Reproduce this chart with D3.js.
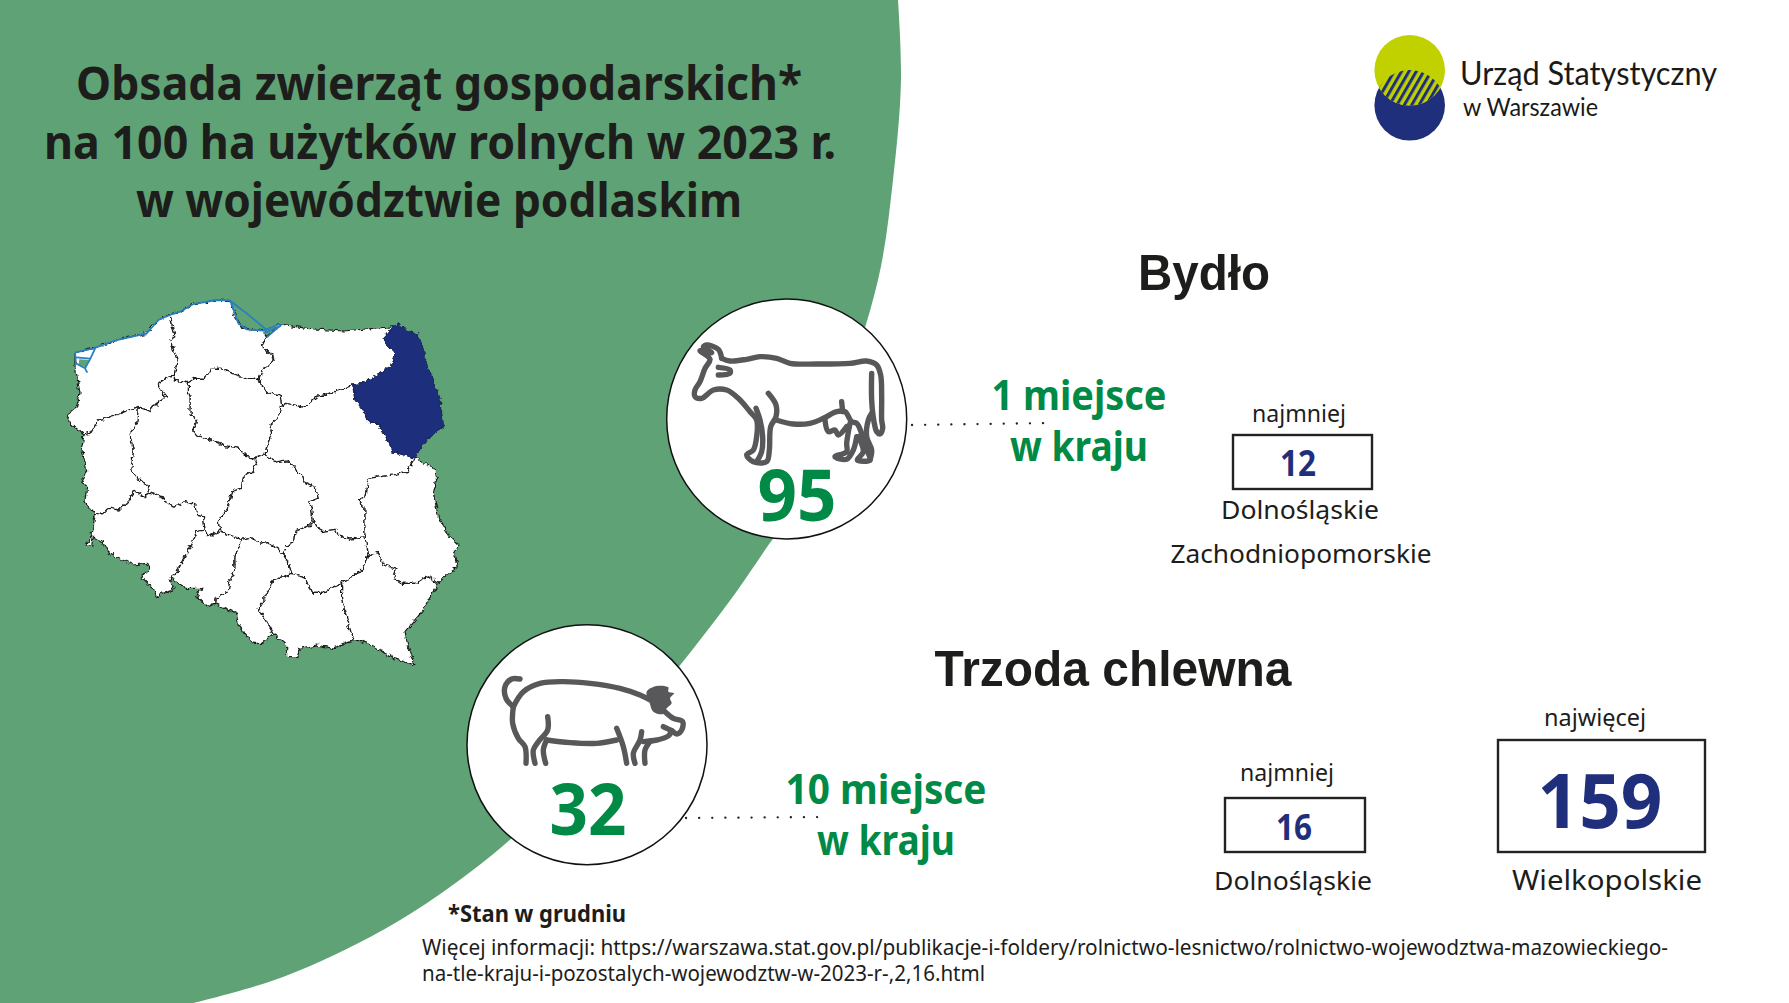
<!DOCTYPE html>
<html>
<head>
<meta charset="utf-8">
<script src="https://cdn.jsdelivr.net/npm/d3@7"></script>
<style>
html, body { margin: 0; padding: 0; background: #fff; overflow: hidden; }
</style>
</head>
<body>
<div id="board"></div>
<script>
// values
var titleLines = ['Obsada zwierząt gospodarskich*', 'na 100 ha użytków rolnych w 2023 r.', 'w województwie podlaskim'];
var species = ['Bydło', 'Trzoda chlewna'];
var speciesValues = [95, 32];
var ranks = ['1 miejsce', '10 miejsce'];
var lowValues = [12, 16];
var highValues = [null, 159];
var lowNames = [['Dolnośląskie', 'Zachodniopomorskie'], ['Dolnośląskie']];
var highNames = [null, ['Wielkopolskie']];
var linkLines = ['Więcej informacji: https://warszawa.stat.gov.pl/publikacje-i-foldery/rolnictwo-lesnictwo/rolnictwo-wojewodztwa-mazowieckiego-',
    'na-tle-kraju-i-pozostalych-wojewodztw-w-2023-r-,2,16.html'];

// edge of the green background, picture pixels
var greenEdge = [[898,0],[901,80],[893,180],[878,280],[840,400],[792,510],[765,550],[723,610],[625,730],[512,838],[450,887],[383,930],[283,977],[193,1003]];

// voivodeships
var zachodniopomorskie = [[105,218],[160,205],[230,180],[320,160],[355,120],[390,105],[405,170],[390,180],[412,240],[403,285],[385,290],[352,315],[378,350],[345,375],[330,395],[295,380],[215,410],[175,420],[150,460],[132,465],[80,420],[85,400],[110,380],[120,340],[105,260]];
var pomorskie = [[390,105],[420,95],[460,72],[530,60],[570,62],[575,75],[595,130],[620,148],[670,152],[680,170],[665,200],[705,232],[690,255],[670,265],[657,295],[625,295],[590,285],[540,265],[515,265],[495,295],[465,295],[445,308],[403,300],[403,285],[412,240],[390,180],[405,170]];
var warminskoMazurskie = [[680,170],[720,132],[800,145],[910,153],[1060,140],[1030,175],[1065,225],[1050,260],[1000,290],[970,310],[938,315],[870,340],[830,350],[795,382],[740,370],[725,380],[720,345],[690,340],[665,320],[657,295],[670,265],[690,255],[705,232],[665,200]];
var podlaskie = [[1060,140],[1075,130],[1100,150],[1135,165],[1148,200],[1165,270],[1190,330],[1200,370],[1212,440],[1170,470],[1145,500],[1125,535],[1060,515],[1035,465],[1015,430],[990,430],[970,390],[945,360],[938,315],[970,310],[1000,290],[1050,260],[1065,225],[1030,175]];
var kujawskoPomorskie = [[445,308],[465,295],[495,295],[515,265],[540,265],[590,285],[625,295],[657,295],[665,320],[690,340],[720,345],[725,380],[712,415],[690,435],[695,460],[680,500],[675,525],[645,535],[620,530],[595,505],[545,495],[510,480],[470,465],[458,450],[470,420],[450,405],[450,350],[445,335]];
var wielkopolskie = [[403,285],[403,300],[445,308],[445,335],[450,350],[450,405],[470,420],[458,450],[470,465],[510,480],[545,495],[595,505],[620,530],[645,535],[650,550],[635,575],[610,590],[605,625],[575,635],[565,680],[535,725],[540,755],[510,768],[495,750],[490,710],[470,705],[465,675],[435,665],[405,682],[365,655],[335,635],[315,650],[330,620],[300,605],[272,570],[280,515],[270,460],[290,430],[295,380],[330,395],[345,375],[378,350],[352,315],[385,290]];
var lubuskie = [[132,465],[150,460],[175,420],[215,410],[295,380],[290,430],[270,460],[280,515],[272,570],[300,605],[330,620],[315,650],[285,632],[265,665],[240,690],[210,685],[190,695],[165,705],[135,665],[140,620],[125,610],[140,570],[125,505]];
var dolnoslaskie = [[165,705],[190,695],[210,685],[240,690],[265,665],[285,632],[315,650],[335,635],[365,655],[405,682],[435,665],[465,675],[470,705],[490,710],[495,750],[470,755],[450,800],[425,850],[405,885],[390,895],[400,930],[365,940],[350,950],[340,925],[303,890],[330,865],[320,850],[280,855],[205,820],[190,790],[160,772],[155,798],[138,798],[155,770]];
var opolskie = [[495,750],[510,768],[540,755],[605,778],[585,830],[585,870],[570,900],[565,935],[525,955],[525,970],[505,980],[470,950],[485,925],[440,925],[390,895],[405,885],[425,850],[450,800],[470,755]];
var lodzkie = [[645,535],[675,525],[710,548],[745,542],[785,585],[790,605],[825,620],[835,655],[810,665],[820,720],[810,735],[765,755],[760,790],[740,800],[730,820],[680,785],[660,790],[630,772],[605,778],[540,755],[535,725],[565,680],[575,635],[605,625],[610,590],[635,575],[650,550]];
var mazowieckie = [[725,380],[740,370],[795,382],[830,350],[870,340],[938,315],[945,360],[970,390],[990,430],[1015,430],[1035,465],[1060,515],[1125,535],[1100,575],[1060,585],[985,595],[975,650],[955,660],[975,680],[975,770],[930,778],[895,765],[885,748],[845,755],[820,720],[810,665],[835,655],[825,620],[790,605],[785,585],[745,542],[710,548],[675,525],[680,500],[695,460],[690,435],[712,415]];
var lubelskie = [[1125,535],[1185,565],[1190,600],[1180,640],[1195,710],[1230,770],[1257,795],[1240,820],[1255,860],[1225,880],[1195,910],[1165,888],[1130,910],[1085,910],[1060,895],[1070,865],[1030,855],[1015,818],[985,825],[975,770],[975,680],[955,660],[975,650],[985,595],[1060,585],[1100,575]];
var swietokrzyskie = [[820,720],[845,755],[885,748],[895,765],[930,778],[975,770],[985,825],[965,870],[905,910],[870,925],[850,940],[815,940],[795,890],[755,880],[745,850],[730,820],[740,800],[760,790],[765,755],[810,735]];
var slaskie = [[605,778],[630,772],[660,790],[680,785],[730,820],[745,850],[755,880],[700,900],[680,945],[655,985],[670,1010],[700,1060],[665,1090],[640,1090],[595,1035],[590,1000],[525,970],[525,955],[565,935],[570,900],[585,870],[585,830]];
var malopolskie = [[755,880],[795,890],[815,940],[850,940],[870,925],[905,910],[905,960],[920,1010],[940,1082],[880,1105],[830,1095],[780,1105],[770,1130],[740,1130],[740,1095],[700,1060],[670,1010],[655,985],[680,945],[700,900]];
var podkarpackie = [[905,910],[965,870],[985,825],[1015,818],[1030,855],[1070,865],[1060,895],[1085,910],[1130,910],[1165,888],[1195,910],[1150,990],[1095,1055],[1105,1100],[1125,1155],[1060,1135],[1010,1105],[965,1082],[940,1082],[920,1010],[905,960]];
var whiteRegions = [zachodniopomorskie, pomorskie, warminskoMazurskie, kujawskoPomorskie, wielkopolskie, lubuskie, dolnoslaskie, opolskie, lodzkie, mazowieckie, lubelskie, swietokrzyskie, slaskie, malopolskie, podkarpackie];

// blue water lines
var coastLine = [[105,218],[160,205],[230,180],[320,160],[355,120],[390,105],[420,95],[460,72],[530,60],[570,62],[620,100],[680,150]];
var gulfLine = [[572,65],[595,130],[620,148],[670,152],[720,132]];
var spitLine = [[670,160],[722,138]];
var spitLine2 = [[680,172],[725,133]];
var lagoonA = [[105,218],[108,250],[135,265],[142,278]];
var lagoonB = [[168,200],[150,238],[135,265]];
var lagoonC = [[108,232],[150,236]];
var lagoonFill = [[118,238],[148,240],[136,262],[116,254]];

// animal icons, traced
var cowLines = [
    [[215,235],[240,243],[290,238],[330,230],[380,235],[420,250],[500,252],[600,250],[650,243],[680,255],[692,285],[695,350],[695,420],[698,445],[690,462],[680,455],[672,425],[665,360],[665,280]],
    [[215,235],[205,208],[170,195],[160,200],[185,218],[150,212],[180,238],[165,265],[150,305],[135,330],[135,350],[155,355],[190,330],[230,330],[265,355],[300,395],[320,420],[320,470],[310,510],[290,525],[310,545],[350,545],[358,510],[362,440],[378,410],[378,375],[355,340]],
    [[318,385],[330,420],[338,470],[335,515],[320,545]],
    [[378,420],[430,432],[480,430],[520,415],[560,395],[585,395],[605,425],[620,430],[635,460],[655,520],[660,540],[622,540],[640,515],[625,470]],
    [[575,365],[578,395]],
    [[600,430],[590,490],[590,515],[555,530],[590,538],[610,510],[620,470]],
    [[665,400],[655,420],[650,470],[665,510],[660,540]],
    [[525,420],[535,455],[555,450],[565,465],[590,440]],
    [[205,262],[240,270],[240,280],[205,285]]
];
var pigLines = [
    [[210,207],[185,207],[165,230],[168,265],[190,290]],
    [[190,290],[220,245],[270,220],[340,215],[420,220],[510,235],[570,255],[600,270]],
    [[645,305],[670,325],[698,335],[695,360],[680,372],[665,362],[640,350]],
    [[665,362],[655,378],[620,390],[580,395]],
    [[290,390],[360,398],[440,400],[500,390]],
    [[190,290],[188,340],[205,385],[225,410],[228,460]],
    [[293,320],[293,360],[265,395],[250,420],[255,460]],
    [[290,390],[280,420],[287,460]],
    [[500,355],[520,410],[530,460]],
    [[575,365],[570,390],[550,430],[555,460]],
    [[600,395],[585,420],[585,460]]
];
var pigEar = [[590,245],[620,228],[655,232],[655,245],[672,250],[660,265],[665,280],[650,295],[640,312],[610,305],[598,275]];

var NAVY = '#1f2f7b', GREEN = '#008a45', BG = '#5fa275', INK = '#1d1d1b', GREY = '#58585a';
var FONT = '"Noto Sans", sans-serif', HEAD = '"Liberation Sans", Arial, sans-serif';

var svg = d3.select('#board').append('svg').attr('width', 1789).attr('height', 1003).style('display', 'block');
var defs = svg.append('defs');

// wobble for the jagged borders
var rough = defs.append('filter').attr('id', 'rough')
    .attr('filterUnits', 'userSpaceOnUse')
    .attr('x', 40).attr('y', 280).attr('width', 460).attr('height', 400);
rough.append('feTurbulence').attr('type', 'fractalNoise').attr('baseFrequency', 0.2).attr('numOctaves', 2).attr('seed', 5).attr('result', 'n');
rough.append('feDisplacementMap').attr('in', 'SourceGraphic').attr('in2', 'n').attr('scale', 6).attr('xChannelSelector', 'R').attr('yChannelSelector', 'G');

var hatch = defs.append('pattern').attr('id', 'hatch').attr('patternUnits', 'userSpaceOnUse')
    .attr('width', 6.4).attr('height', 6.4).attr('patternTransform', 'rotate(30)');
hatch.append('rect').attr('width', 6.4).attr('height', 6.4).attr('fill', '#c1d100');
hatch.append('rect').attr('width', 3).attr('height', 6.4).attr('fill', NAVY);

defs.append('clipPath').attr('id', 'lens').append('circle').attr('cx', 1409.7).attr('cy', 70.3).attr('r', 35.3);

// scales from each traced crop to the page
function cropScales(x0, y0) {
    return { x: d3.scaleLinear().domain([0, 3]).range([x0, x0 + 1]), y: d3.scaleLinear().domain([0, 3]).range([y0, y0 + 1]) };
}
var mapS = cropScales(40, 280), cowS = cropScales(650, 280), pigS = cropScales(450, 610);
function tracer(s, curve) {
    return d3.line().x(function(d) { return s.x(d[0]); }).y(function(d) { return s.y(d[1]); }).curve(curve || d3.curveLinear);
}

function label(x, y, str, size, opts) {
    opts = opts || {};
    var t = svg.append('text').attr('x', x).attr('y', y).text(str)
        .attr('font-family', opts.family || FONT)
        .attr('font-size', size)
        .attr('font-weight', opts.weight || 400)
        .attr('fill', opts.fill || INK)
        .attr('text-anchor', opts.anchor || 'middle');
    if (opts.width) t.attr('textLength', opts.width).attr('lengthAdjust', 'spacingAndGlyphs');
    return t;
}

// background
svg.append('path')
    .attr('d', d3.line().curve(d3.curveCatmullRom)(greenEdge) + 'L0,1003L0,0Z')
    .attr('fill', BG);

// title
label(439, 100, titleLines[0], 47, { weight: 700, width: 726 });
label(440, 159, titleLines[1], 47, { weight: 700, width: 792 });
label(439, 217, titleLines[2], 47, { weight: 700, width: 606 });

// map
var mapLine = tracer(mapS);
var mapG = svg.append('g').attr('filter', 'url(#rough)');
mapG.selectAll('path.woj').data(whiteRegions).enter().append('path')
    .attr('class', 'woj')
    .attr('d', function(d) { return mapLine(d) + 'Z'; })
    .attr('fill', '#fff').attr('stroke', '#1a1a1a').attr('stroke-width', 1.2);
mapG.append('path').attr('d', mapLine(podlaskie) + 'Z').attr('fill', NAVY).attr('stroke', '#1b2560').attr('stroke-width', 1);
svg.append('path').attr('d', mapLine(lagoonFill) + 'Z').attr('fill', BG);
svg.selectAll('path.water').data([coastLine, gulfLine, spitLine, spitLine2, lagoonA, lagoonB, lagoonC]).enter().append('path')
    .attr('class', 'water')
    .attr('d', mapLine).attr('fill', 'none').attr('stroke', '#2a7fbe').attr('stroke-width', 1.8);

// animal circles
svg.selectAll('circle.badge').data([[786.7, 418.9], [587, 744.7]]).enter().append('circle')
    .attr('class', 'badge')
    .attr('cx', function(d) { return d[0]; }).attr('cy', function(d) { return d[1]; })
    .attr('r', 120).attr('fill', '#fff').attr('stroke', '#111').attr('stroke-width', 1.5);

function drawIcon(lines, s) {
    var line = tracer(s, d3.curveCatmullRom);
    svg.append('g').selectAll('path').data(lines).enter().append('path')
        .attr('d', line).attr('fill', 'none').attr('stroke', GREY)
        .attr('stroke-width', 5.4).attr('stroke-linecap', 'round').attr('stroke-linejoin', 'round');
}
drawIcon(cowLines, cowS);
drawIcon(pigLines, pigS);
svg.append('path').attr('d', tracer(pigS, d3.curveCatmullRomClosed)(pigEar)).attr('fill', GREY);

label(797, 521, speciesValues[0], 71, { weight: 700, fill: GREEN, width: 79 });
label(588, 835, speciesValues[1], 71, { weight: 700, fill: GREEN, width: 77 });

// dotted leaders
svg.append('line').attr('x1', 912).attr('y1', 425).attr('x2', 1053).attr('y2', 423)
    .attr('stroke', '#222').attr('stroke-width', 2.3).attr('stroke-linecap', 'round').attr('stroke-dasharray', '0.1 13');
svg.append('line').attr('x1', 686).attr('y1', 818).attr('x2', 827).attr('y2', 817)
    .attr('stroke', '#222').attr('stroke-width', 2.3).attr('stroke-linecap', 'round').attr('stroke-dasharray', '0.1 13');

// headings
label(1204, 290, species[0], 50, { family: HEAD, weight: 700, width: 132 });
label(1113, 686, species[1], 50, { family: HEAD, weight: 700, width: 357 });

// ranks
label(1079, 410, ranks[0], 41, { weight: 700, fill: GREEN, width: 175 });
label(1079, 461, 'w kraju', 41, { weight: 700, fill: GREEN, width: 138 });
label(886, 804, ranks[1], 41, { weight: 700, fill: GREEN, width: 201 });
label(886, 855, 'w kraju', 41, { weight: 700, fill: GREEN, width: 138 });

function box(x0, y0, x1, y1) {
    svg.append('rect').attr('x', x0).attr('y', y0).attr('width', x1 - x0).attr('height', y1 - y0)
        .attr('fill', '#fff').attr('stroke', '#222').attr('stroke-width', 2.4);
}

// cattle
label(1299, 422, 'najmniej', 24, { width: 94 });
box(1233, 435, 1372, 489);
label(1298, 476, lowValues[0], 35, { weight: 700, fill: NAVY, width: 36 });
label(1300, 519, lowNames[0][0], 26, { width: 158 });
label(1301, 563, lowNames[0][1], 26, { width: 261 });

// pigs
label(1287, 781, 'najmniej', 24, { width: 94 });
box(1225, 798, 1365, 852);
label(1294, 840, lowValues[1], 35, { weight: 700, fill: NAVY, width: 36 });
label(1293, 890, lowNames[1][0], 26, { width: 158 });
label(1595, 726, 'najwięcej', 24, { width: 102 });
box(1498, 740, 1705, 852);
label(1600, 828, highValues[1], 76, { weight: 700, fill: NAVY, width: 125 });
label(1607, 890, highNames[1][0], 28, { width: 190 });

// footnotes
label(448, 922, '*Stan w grudniu', 23, { weight: 700, anchor: 'start', width: 178 });
label(422, 955, linkLines[0], 21, { anchor: 'start', width: 1246 });
label(422, 981, linkLines[1], 21, { anchor: 'start', width: 563 });

// logo
svg.append('circle').attr('cx', 1409.7).attr('cy', 105.3).attr('r', 35.3).attr('fill', NAVY);
svg.append('circle').attr('cx', 1409.7).attr('cy', 70.3).attr('r', 35.3).attr('fill', '#c1d100');
svg.append('circle').attr('cx', 1409.7).attr('cy', 105.3).attr('r', 35.3).attr('fill', 'url(#hatch)').attr('clip-path', 'url(#lens)');
label(1460, 85, 'Urząd Statystyczny', 33, { family: 'Lato, sans-serif', anchor: 'start', width: 257, fill: '#1a1a18' });
label(1463, 116, 'w Warszawie', 25, { family: 'Lato, sans-serif', anchor: 'start', width: 135, fill: '#1a1a18' });
</script>
</body>
</html>
